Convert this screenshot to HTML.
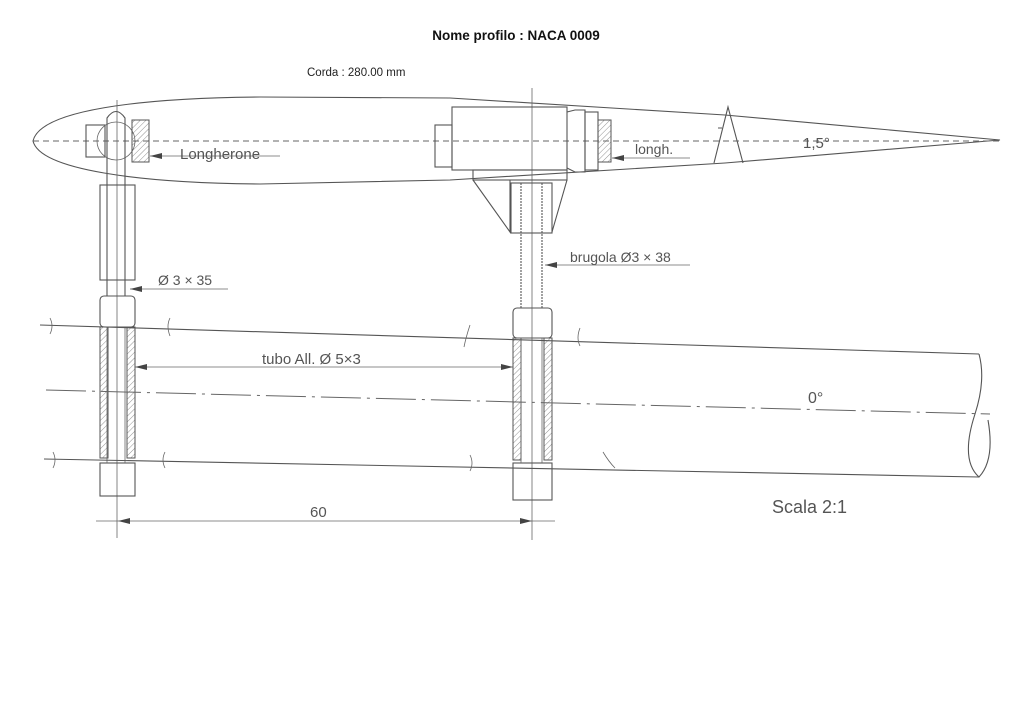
<!DOCTYPE html>
<html><head><meta charset="utf-8"><style>
html,body{margin:0;padding:0;background:#fff;}
svg{display:block;}
.p{fill:none;stroke:#555;stroke-width:1.1;}
.t{stroke:#666;stroke-width:0.8;fill:none;}
.h{font-family:"Liberation Sans",sans-serif;fill:#555;}
</style></head><body>
<svg width="1024" height="724" viewBox="0 0 1024 724" xmlns="http://www.w3.org/2000/svg">
<defs>
<pattern id="hat" width="4" height="4" patternUnits="userSpaceOnUse" patternTransform="rotate(45)"><line x1="0" y1="0" x2="0" y2="4" stroke="#777" stroke-width="0.8"/></pattern>
</defs>
<text x="516" y="40" text-anchor="middle" font-family="Liberation Sans,sans-serif" font-weight="bold" font-size="13.5" fill="#111">Nome profilo : NACA 0009</text>
<text x="307" y="76" font-family="Liberation Sans,sans-serif" font-size="11.5" fill="#222">Corda : 280.00 mm</text>

<path class="p" d="M33,141 C40,110 140,98 260,97 L450,98 L725,115 L1000,140 L725,163 L450,180 L260,184 C140,183 40,170 33,141 Z"/>
<line x1="33" y1="141" x2="1000" y2="141" stroke="#666" stroke-width="0.9" stroke-dasharray="6,4"/>

<line x1="117" y1="100" x2="117" y2="538" class="t"/>
<rect x="86" y="125" width="19" height="32" class="p"/>
<circle cx="116" cy="141" r="19" class="t"/>
<rect x="132" y="120" width="17" height="42" fill="url(#hat)" stroke="#555"/>
<path class="p" d="M107,184 L107,118 Q116,105 125,118 L125,296"/>
<line x1="107" y1="184" x2="107" y2="296" class="p"/>
<rect x="100" y="185" width="35" height="95" class="p"/>
<rect x="100" y="296" width="35" height="31" rx="4" class="p"/>
<rect x="100" y="327" width="8" height="131" fill="url(#hat)" stroke="#555"/>
<rect x="127" y="327" width="8" height="131" fill="url(#hat)" stroke="#555"/>
<rect x="100" y="463" width="35" height="33" class="p"/>
<line x1="107" y1="327" x2="107" y2="463" class="t"/>
<line x1="125" y1="327" x2="125" y2="463" class="t"/>

<line x1="532" y1="88" x2="532" y2="540" class="t"/>
<rect x="435" y="125" width="17" height="42" class="p"/>
<rect x="452" y="107" width="115" height="63" class="p"/>
<path class="p" d="M567,112 L575,110 L585,110 L585,172 L575,172 L567,168"/>
<rect x="585" y="112" width="13" height="58" class="p"/>
<rect x="598" y="120" width="13" height="42" fill="url(#hat)" stroke="#555"/>
<rect x="473" y="170" width="94" height="10" class="p"/>
<path class="p" d="M473,180 L510,232 L510,180 M567,180 L552,232"/>
<rect x="511" y="183" width="41" height="50" class="p"/>
<line x1="521" y1="183" x2="521" y2="308" class="p" stroke-dasharray="2,1"/>
<line x1="542" y1="183" x2="542" y2="308" class="p" stroke-dasharray="2,1"/>
<rect x="513" y="308" width="39" height="30" rx="4" class="p"/>
<rect x="513" y="338" width="8" height="122" fill="url(#hat)" stroke="#555"/>
<rect x="544" y="338" width="8" height="122" fill="url(#hat)" stroke="#555"/>
<rect x="513" y="463" width="39" height="37" class="p"/>
<line x1="521" y1="338" x2="521" y2="463" class="t"/>
<line x1="542" y1="338" x2="542" y2="463" class="t"/>

<path class="p" d="M714,163 L728,107 L743,163 M718,128 L722,128"/>
<text x="803" y="148" class="h" font-size="15">1,5°</text>

<line x1="40" y1="325" x2="979" y2="354" class="p"/>
<line x1="44" y1="459" x2="979" y2="477" class="p"/>
<line x1="46" y1="390" x2="990" y2="414" stroke="#666" stroke-width="1" stroke-dasharray="40,6,3,6"/>
<path class="p" d="M979,354 Q986,380 975,414 Q960,460 979,477 Q995,460 988,420"/>
<path class="t" d="M50,318 q4,8 0,16 M170,318 q-4,8 0,18 M470,325 q-4,12 -6,22 M580,328 q-4,10 0,18 M53,452 q4,8 0,16 M165,452 q-4,8 0,16 M470,455 q4,8 0,16 M603,452 q6,10 12,16"/>

<line x1="135" y1="367" x2="513" y2="367" class="t"/>
<polygon points="135,367 147,364 147,370" fill="#444"/>
<polygon points="513,367 501,364 501,370" fill="#444"/>
<text x="262" y="364" class="h" font-size="15">tubo All. Ø 5×3</text>
<line x1="96" y1="521" x2="555" y2="521" class="t"/>
<polygon points="118,521 130,518 130,524" fill="#444"/>
<polygon points="532,521 520,518 520,524" fill="#444"/>
<text x="310" y="517" class="h" font-size="15">60</text>
<line x1="150" y1="156" x2="280" y2="156" class="t"/>
<polygon points="150,156 162,153 162,159" fill="#444"/>
<text x="180" y="159" class="h" font-size="15">Longherone</text>
<line x1="130" y1="289" x2="228" y2="289" class="t"/>
<polygon points="130,289 142,286 142,292" fill="#444"/>
<text x="158" y="285" class="h" font-size="14">Ø 3 × 35</text>
<line x1="545" y1="265" x2="690" y2="265" class="t"/>
<polygon points="545,265 557,262 557,268" fill="#444"/>
<text x="570" y="262" class="h" font-size="14">brugola Ø3 × 38</text>
<line x1="612" y1="158" x2="690" y2="158" class="t"/>
<polygon points="612,158 624,155 624,161" fill="#444"/>
<text x="635" y="154" class="h" font-size="14">longh.</text>
<text x="808" y="403" class="h" font-size="16">0°</text>
<text x="772" y="513" class="h" font-size="18">Scala 2:1</text>
</svg>
</body></html>
